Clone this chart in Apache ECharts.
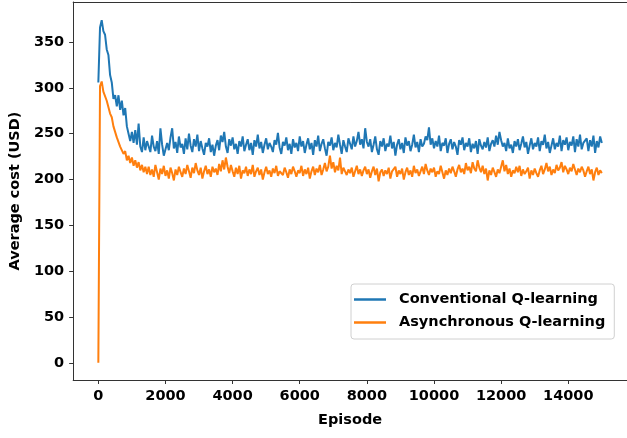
<!DOCTYPE html>
<html>
<head>
<meta charset="utf-8">
<script src="https://cdn.jsdelivr.net/npm/echarts@6/dist/echarts.min.js"></script>
<style>
html,body{margin:0;padding:0;background:#fff;}
#chart{width:627px;height:438px;}
</style>
</head>
<body>
<div id="chart"></div>
<script>
// Episode step between recorded points
const STEP = 50;
const X_TICKS = [0, 2000, 4000, 6000, 8000, 10000, 12000, 14000];
const Y_TICKS = [0, 50, 100, 150, 200, 250, 300, 350];
const SERIES_NAMES = ['Conventional Q-learning', 'Asynchronous Q-learning'];

const conventional = [
306,366,374,362,358,342,336,314,306,288,
292,280,292,276,286,270,278,258,250,242,
252,240,254,238,261,236,230,246,232,242,
244,230,248,236,231,242,228,256,238,226,
224,240,232,246,256,234,241,229,247,235,
239,228,245,233,250,237,230,244,236,249,
231,242,234,227,240,236,245,230,238,226,
237,243,232,248,241,252,236,229,244,237,
246,233,239,228,242,236,247,231,238,244,
232,240,227,243,236,249,234,241,229,238,
245,233,240,236,230,243,238,251,235,228,
241,237,246,232,239,228,244,235,240,231,
247,236,242,229,238,245,233,240,227,243,
236,248,231,239,244,234,226,241,237,246,
232,240,235,249,238,228,243,236,230,245,
239,233,247,236,242,252,238,244,234,256,
241,236,244,230,238,247,233,227,242,236,
245,231,239,236,248,234,241,226,238,244,
233,240,229,246,237,242,231,238,249,235,
241,230,244,236,239,247,243,257,238,245,
234,242,236,248,231,240,237,245,229,239,
244,233,241,236,227,243,238,246,232,240,
236,245,230,239,234,242,228,244,237,233,
241,235,246,231,239,243,236,248,238,252,
243,236,240,231,245,234,238,229,242,236,
244,232,239,247,235,241,228,237,245,233,
240,236,246,231,242,238,249,234,241,229,
237,245,233,240,236,248,231,243,238,246,
232,241,237,247,230,244,236,249,233,240,
238,245,231,243,236,248,229,242,235,247,
240
];

const asynchronous = [
0,302,307,296,297,286,284,272,268,258,
256,246,245,236,238,228,231,221,226,218,
224,215,221,213,219,210,216,208,214,206,
214,205,211,203,216,208,200,212,206,215,
204,210,201,213,207,199,211,205,214,208,
203,212,206,216,209,202,213,207,218,210,
205,213,201,209,215,206,211,203,214,208,
212,205,217,209,221,211,224,214,207,216,
209,203,213,206,215,201,210,207,214,204,
211,206,216,203,209,213,205,211,200,208,
214,206,210,203,212,207,215,204,209,211,
205,213,208,202,211,206,214,209,203,210,
207,215,204,211,206,213,201,209,214,205,
212,208,216,205,211,218,209,214,226,212,
219,208,215,210,224,206,213,209,205,211,
207,213,203,209,215,206,211,204,210,214,
206,211,202,209,214,205,212,198,208,211,
204,210,206,213,201,209,207,214,203,210,
206,212,200,208,213,205,210,203,215,207,
211,204,209,214,206,217,210,205,212,208,
213,203,209,206,215,208,201,210,205,212,
207,214,209,203,211,216,208,212,206,218,
210,214,207,219,212,209,221,213,208,215,
206,212,199,210,205,213,208,203,211,207,
214,221,209,216,206,212,203,210,207,214,
208,215,204,211,206,209,213,201,210,205,
212,207,203,210,215,206,211,218,209,214,
205,211,207,216,210,213,219,208,215,211,
206,213,209,217,211,205,212,208,214,210,
203,209,214,206,211,199,208,213,205,210,
207
];

const episodes = conventional.map((_, i) => i * STEP);
const pairs = vals => vals.map((v, i) => [episodes[i], v]);

const FONT = 'DejaVu Sans';
const labelStyle = {fontFamily: FONT, fontWeight: 'bold', fontSize: 14.5, color: '#000'};
const spine = {show: true, onZero: false, lineStyle: {color: '#333', width: 1}};
const chart = echarts.init(document.getElementById('chart'), null, {renderer: 'canvas'});
chart.setOption({
  animation: false,
  backgroundColor: '#fff',
  grid: {left: 70, top: 2, width: 560, height: 378, show: false},
  xAxis: [{
    type: 'value', min: -750, max: 15750, position: 'bottom',
    name: 'Episode', nameLocation: 'middle', nameGap: 33,
    nameTextStyle: labelStyle,
    axisLine: spine,
    axisTick: {show: true, length: 4, lineStyle: {color: '#333'}, customValues: X_TICKS},
    axisLabel: Object.assign({margin: 9, customValues: X_TICKS, formatter: v => String(v)}, labelStyle),
    splitLine: {show: false}
  }, {
    type: 'value', min: -750, max: 15750, position: 'top',
    axisLine: spine, axisTick: {show: false}, axisLabel: {show: false}, splitLine: {show: false}
  }],
  yAxis: {
    type: 'value', min: -18.75, max: 393.75,
    name: 'Average cost (USD)', nameLocation: 'middle', nameGap: 47, nameRotate: 90,
    nameTextStyle: labelStyle,
    axisLine: spine,
    axisTick: {show: true, length: 4, lineStyle: {color: '#333'}, customValues: Y_TICKS},
    axisLabel: Object.assign({margin: 9, customValues: Y_TICKS, formatter: v => String(v)}, labelStyle),
    splitLine: {show: false}
  },
  legend: {
    orient: 'vertical', left: 351, top: 284,
    padding: [8, 9, 9, 3],
    itemGap: 8, itemWidth: 32, itemHeight: 2.5,
    icon: 'rect',
    borderColor: '#d0d0d0', borderWidth: 1, borderRadius: 3,
    backgroundColor: '#fff',
    textStyle: Object.assign({padding: [0, 0, 0, 8]}, labelStyle),
    data: SERIES_NAMES
  },
  series: [
    {name: SERIES_NAMES[0], type: 'line', data: pairs(conventional), showSymbol: false, symbol: 'none',
     lineStyle: {color: '#1f77b4', width: 2}, itemStyle: {color: '#1f77b4'}},
    {name: SERIES_NAMES[1], type: 'line', data: pairs(asynchronous), showSymbol: false, symbol: 'none',
     lineStyle: {color: '#ff7f0e', width: 2}, itemStyle: {color: '#ff7f0e'}}
  ]
});
</script>
</body>
</html>
